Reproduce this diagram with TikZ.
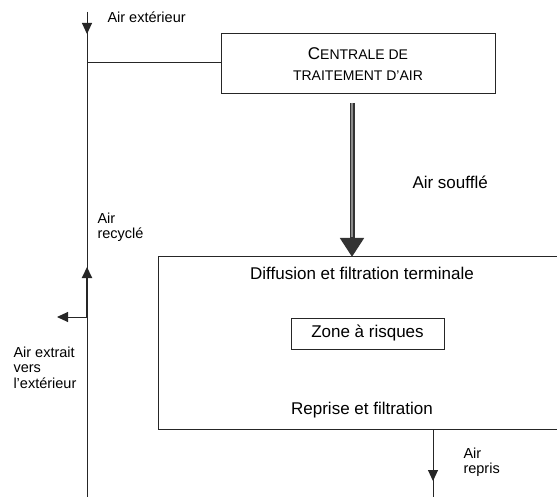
\documentclass[tikz,border=0pt]{standalone}
\usepackage{fontspec}
\setmainfont{Liberation Sans}
\usepackage{tikz}
\usetikzlibrary{arrows.meta}

\begin{document}
\begin{tikzpicture}[x=1pt,y=-1pt,line width=1pt,draw=black!85,
  petit/.style={font=\fontsize{14.5}{15.5}\selectfont,inner sep=0pt,align=left},
  grand/.style={font=\fontsize{17}{20}\selectfont,inner sep=0pt},
  boite/.style={draw,rectangle,inner sep=0pt},
  fleche/.style={-{Triangle[length=11pt,width=10pt]}}]

  \useasboundingbox (0,0) rectangle (557,497);

  % boites
  \node[boite,minimum width=274pt,minimum height=60pt,align=center,
    font=\fontsize{14}{21}\selectfont] (cta) at (358,64)
    {{\fontsize{17}{21}\selectfont C}ENTRALE DE\\TRAITEMENT D'AIR};
  \node[boite,grand,minimum width=153pt,minimum height=31pt] (zone) at (367.5,333.5) {Zone \`a risques};
  \node[grand] (diff) at (362,273) {Diffusion et filtration terminale};
  \node[grand] (reprise) at (362,410) {Reprise et filtration};

  \coordinate (salleNE) at (557,257);
  \coordinate (salleSW) at (158,429);
  \coordinate (salleSE) at (557,429);
  \draw (salleNE) -| (salleSW) -- (salleSE);

  % conduit gauche
  \coordinate (haut) at (87,12);
  \coordinate (bas) at (87,497);
  \coordinate (piquage) at (87,63);
  \coordinate (rejet) at (87,317);
  \coordinate (recycle) at (87,267);
  \coordinate (sortie) at (57,317);
  \draw (haut) -- (bas);
  \draw[fleche] (haut) -- (87,34);
  \draw (piquage) -- (piquage -| cta.west);
  \draw[fleche,line width=2pt] (rejet) -- (recycle);
  \draw[fleche] (rejet) -- (sortie);

  % air souffle
  \coordinate (souffleA) at (352,103);
  \coordinate (souffleB) at (352,257);
  \draw[-{Triangle[length=19pt,width=23pt]},line width=5pt,black!80] (souffleA) -- (souffleB);
  \draw[black!45,line width=1.6pt,shorten >=20pt] (souffleA) -- (souffleB);

  % air repris
  \coordinate (repriseA) at (433,429);
  \coordinate (repriseB) at (433,497);
  \draw (repriseA) -- (repriseB);
  \draw[fleche] (repriseA) -- (433,481);

  % etiquettes
  \node[petit,anchor=west] (lext) at (107,17) {Air ext\'erieur};
  \node[grand,anchor=west] (lsouf) at (412,182) {Air souffl\'e};
  \node[petit,anchor=west] (lrec) at (97,227.5) {Air\\recycl\'e};
  \node[petit,anchor=west] (lextr) at (13,367.5) {Air extrait\\vers\\l'ext\'erieur};
  \node[petit,anchor=west] (lrep) at (463,462) {Air\\repris};
\end{tikzpicture}
\end{document}
